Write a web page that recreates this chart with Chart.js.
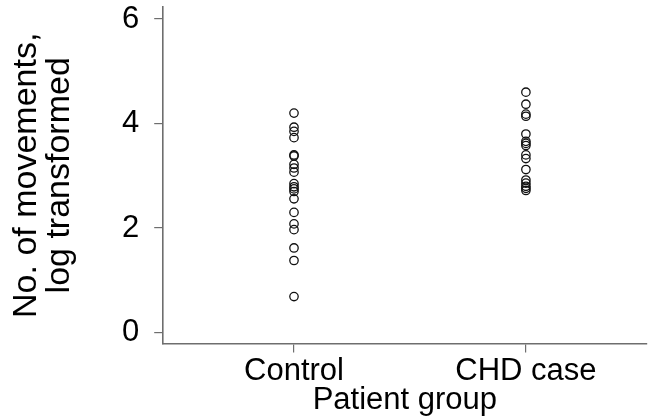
<!DOCTYPE html>
<html>
<head>
<meta charset="utf-8">
<script src="https://cdn.jsdelivr.net/npm/chart.js@4/dist/chart.umd.min.js"></script>
<style>
  body { margin: 0; background: #fff; }
  #wrap { width: 652px; height: 419px; }
</style>
</head>
<body>
<div id="wrap"><canvas id="myChart" width="652" height="419"></canvas></div>
<script>
const groups = ['Control', 'CHD case'];
const controlValues = [4.2, 3.93, 3.85, 3.73, 3.4, 3.38, 3.22, 3.15, 3.07, 2.85, 2.79, 2.75, 2.7, 2.56, 2.3, 2.08, 1.97, 1.62, 1.38, 0.69];
const chdValues = [4.6, 4.37, 4.18, 4.14, 3.8, 3.66, 3.62, 3.58, 3.4, 3.33, 3.12, 2.92, 2.86, 2.8, 2.76, 2.72];
const yTicks = [0, 2, 4, 6];

const axisColor = '#6e6e6e';
const fontFamily = '"Liberation Sans", Arial, sans-serif';

document.addEventListener('DOMContentLoaded', () => {
    const ctx = document.getElementById('myChart').getContext('2d');

    const points = [
        ...controlValues.map(v => ({ x: 1, y: v })),
        ...chdValues.map(v => ({ x: 2, y: v }))
    ];

    window.chart = new Chart(ctx, {
        type: 'scatter',
        data: {
            datasets: [{
                label: 'movements',
                data: points,
                pointStyle: 'circle',
                pointRadius: 4.2,
                borderColor: '#111',
                backgroundColor: 'rgba(0,0,0,0)',
                borderWidth: 1.3
            }]
        },
        options: {
            responsive: false,
            animation: false,
            layout: { padding: { top: 7, right: 0, left: 10, bottom: 0 } },
            plugins: {
                legend: { display: false },
                tooltip: { enabled: false }
            },
            scales: {
                x: {
                    type: 'linear',
                    min: 0.436,
                    max: 2.52,
                    afterBuildTicks: axis => { axis.ticks = [1, 2].map(v => ({ value: v })); },
                    ticks: {
                        color: '#000',
                        font: { family: fontFamily, size: 31 },
                        padding: 0,
                        maxRotation: 0,
                        autoSkip: false,
                        callback: v => groups[v - 1]
                    },
                    grid: { drawOnChartArea: false, tickLength: 9, color: axisColor, lineWidth: 1.2 },
                    border: { color: axisColor, width: 1.6 },
                    title: {
                        display: true,
                        text: 'Patient group',
                        color: '#000',
                        font: { family: fontFamily, size: 31 },
                        padding: { top: -8, bottom: 0 }
                    }
                },
                y: {
                    min: -0.21,
                    max: 6.23,
                    afterBuildTicks: axis => { axis.ticks = yTicks.map(v => ({ value: v })); },
                    afterFit: axis => { axis.paddingTop = 0; axis.paddingBottom = 0; },
                    ticks: {
                        color: '#000',
                        font: { family: fontFamily, size: 31 },
                        padding: 15,
                        autoSkip: false
                    },
                    grid: { drawOnChartArea: false, tickLength: 9, color: axisColor, lineWidth: 1.2 },
                    border: { color: axisColor, width: 1.6 },
                    title: {
                        display: true,
                        text: ['No. of movements,', 'log transformed'],
                        color: '#000',
                        font: { family: fontFamily, size: 34, lineHeight: 0.97 },
                        padding: { top: 0, bottom: 31 }
                    }
                }
            }
        }
    });
});
</script>
</body>
</html>
